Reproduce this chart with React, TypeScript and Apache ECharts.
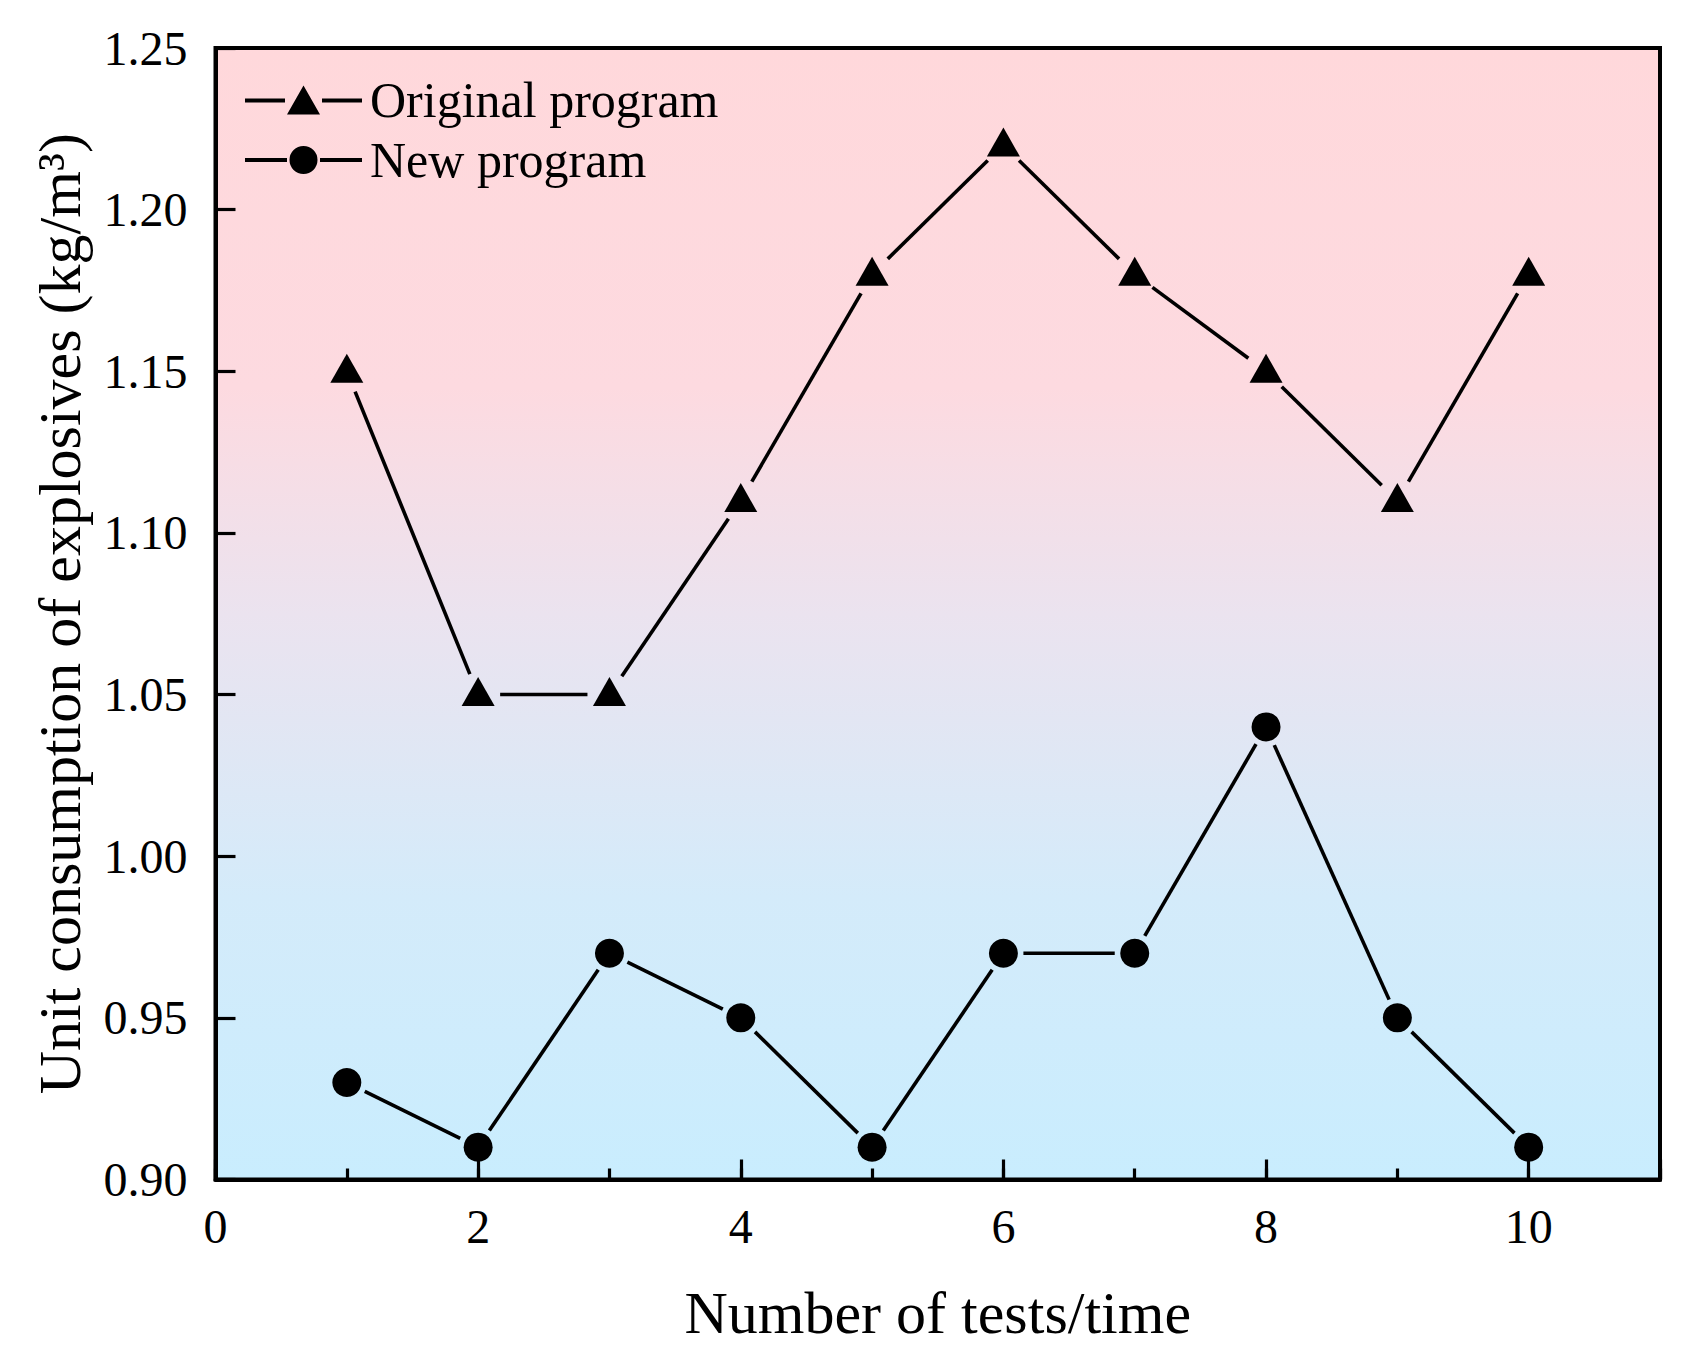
import { useEffect, useRef } from "react";
import * as echarts from "echarts";

const tests = [1, 2, 3, 4, 5, 6, 7, 8, 9, 10];
const originalProgram = [1.15, 1.05, 1.05, 1.11, 1.18, 1.22, 1.18, 1.15, 1.11, 1.18];
const newProgram = [0.93, 0.91, 0.97, 0.95, 0.91, 0.97, 0.97, 1.04, 0.95, 0.91];

const FONT = '"Liberation Serif", "Times New Roman", serif';

const ORIGINAL_ICON =
    "path://M0,13L40,13L40,17L0,17Z M42,29L58.5,0L75,29Z M77,13L117,13L117,17L77,17Z";
const NEW_ICON =
    "path://M0,13L42,13L42,17L0,17Z M44.5,15A14,14 0 1,1 72.5,15A14,14 0 1,1 44.5,15Z M75,13L117,13L117,17L75,17Z";

// points -> segments [x1, y1, x2, y2] so the line can stop short of the markers
function toSegments(values: number[]) {
    const segs: number[][] = [];
    for (let i = 0; i < values.length - 1; i++) {
        segs.push([tests[i], values[i], tests[i + 1], values[i + 1]]);
    }
    return segs;
}

function gapLine(gap: number) {
    return (params: any, api: any) => {
        const p1 = api.coord([api.value(0), api.value(1)]);
        const p2 = api.coord([api.value(2), api.value(3)]);
        const dx = p2[0] - p1[0];
        const dy = p2[1] - p1[1];
        const len = Math.sqrt(dx * dx + dy * dy) || 1;
        const ux = dx / len;
        const uy = dy / len;
        return {
            type: "line",
            shape: {
                x1: p1[0] + ux * gap,
                y1: p1[1] + uy * gap,
                x2: p2[0] - ux * gap,
                y2: p2[1] - uy * gap,
            },
            style: { stroke: "#000", lineWidth: 3.6 },
        };
    };
}

export default function App() {
    const chartRef = useRef<HTMLDivElement | null>(null);

    useEffect(() => {
        if (!chartRef.current) return;
        const chart = echarts.init(chartRef.current, undefined, { renderer: "svg" });

        chart.setOption({
            animation: false,
            backgroundColor: "#ffffff",
            textStyle: { fontFamily: FONT },
            grid: {
                left: 215.5,
                right: 27,
                top: 48,
                bottom: 184.5,
                show: true,
                borderColor: "#000",
                borderWidth: 4,
                backgroundColor: new echarts.graphic.LinearGradient(0, 0, 0, 1, [
                    { offset: 0, color: "#FFD8DB" },
                    { offset: 0.3, color: "#FDDAE0" },
                    { offset: 0.5, color: "#EBE3EF" },
                    { offset: 0.75, color: "#D4EBFA" },
                    { offset: 1, color: "#C9EDFE" },
                ]),
            },
            legend: {
                left: 240,
                top: 70,
                orient: "vertical",
                itemWidth: 117,
                itemHeight: 29,
                itemGap: 10,
                textStyle: { fontFamily: FONT, fontSize: 50, color: "#000", padding: [0, 0, 0, 3] },
                data: [
                    { name: "Original program", icon: ORIGINAL_ICON },
                    { name: "New program", icon: NEW_ICON },
                ],
            },
            xAxis: [
                {
                    type: "value",
                    min: 0,
                    max: 11,
                    interval: 1,
                    axisLine: { show: true, lineStyle: { color: "#000", width: 4 } },
                    axisTick: { show: true, inside: true, length: 11, lineStyle: { color: "#000", width: 3.2 } },
                    axisLabel: { show: false },
                    splitLine: { show: false },
                },
                {
                    type: "value",
                    position: "bottom",
                    min: 0,
                    max: 11,
                    interval: 2,
                    axisLine: { show: false },
                    axisTick: { show: true, inside: true, length: 20, lineStyle: { color: "#000", width: 3.2 } },
                    axisLabel: {
                        fontFamily: FONT,
                        fontSize: 48,
                        color: "#000",
                        margin: 23,
                        formatter: (v: number) => (v % 2 === 0 ? String(v) : ""),
                    },
                    splitLine: { show: false },
                    name: "Number of tests/time",
                    nameLocation: "middle",
                    nameGap: 103,
                    nameTextStyle: { fontFamily: FONT, fontSize: 60, color: "#000" },
                },
            ],
            yAxis: {
                type: "value",
                min: 0.9,
                max: 1.25,
                interval: 0.05,
                axisLine: { show: true, lineStyle: { color: "#000", width: 4 } },
                axisTick: { show: true, inside: true, length: 20, lineStyle: { color: "#000", width: 3.2 } },
                axisLabel: {
                    fontFamily: FONT,
                    fontSize: 48,
                    color: "#000",
                    margin: 28,
                    formatter: (v: number) => v.toFixed(2),
                },
                splitLine: { show: false },
                name: "Unit consumption of explosives (kg/m³)",
                nameLocation: "middle",
                nameGap: 126,
                nameTextStyle: { fontFamily: FONT, fontSize: 60, color: "#000" },
            },
            series: [
                {
                    name: "Original program segments",
                    type: "custom",
                    renderItem: gapLine(22),
                    encode: { x: [0, 2], y: [1, 3] },
                    data: toSegments(originalProgram),
                    silent: true,
                    z: 2,
                },
                {
                    name: "New program segments",
                    type: "custom",
                    renderItem: gapLine(20),
                    encode: { x: [0, 2], y: [1, 3] },
                    data: toSegments(newProgram),
                    silent: true,
                    z: 2,
                },
                {
                    name: "Original program",
                    type: "scatter",
                    symbol: "triangle",
                    symbolSize: [33, 29],
                    symbolOffset: [0, -3],
                    itemStyle: { color: "#000", opacity: 1 },
                    data: tests.map((t, i) => [t, originalProgram[i]]),
                    z: 3,
                },
                {
                    name: "New program",
                    type: "scatter",
                    symbol: "circle",
                    symbolSize: 29,
                    itemStyle: { color: "#000", opacity: 1 },
                    data: tests.map((t, i) => [t, newProgram[i]]),
                    z: 3,
                },
            ],
        });

        return () => chart.dispose();
    }, []);

    return (
        <div
            ref={chartRef}
            style={{ position: "fixed", left: 0, top: 0, width: 1687, height: 1364, background: "#fff" }}
        />
    );
}
